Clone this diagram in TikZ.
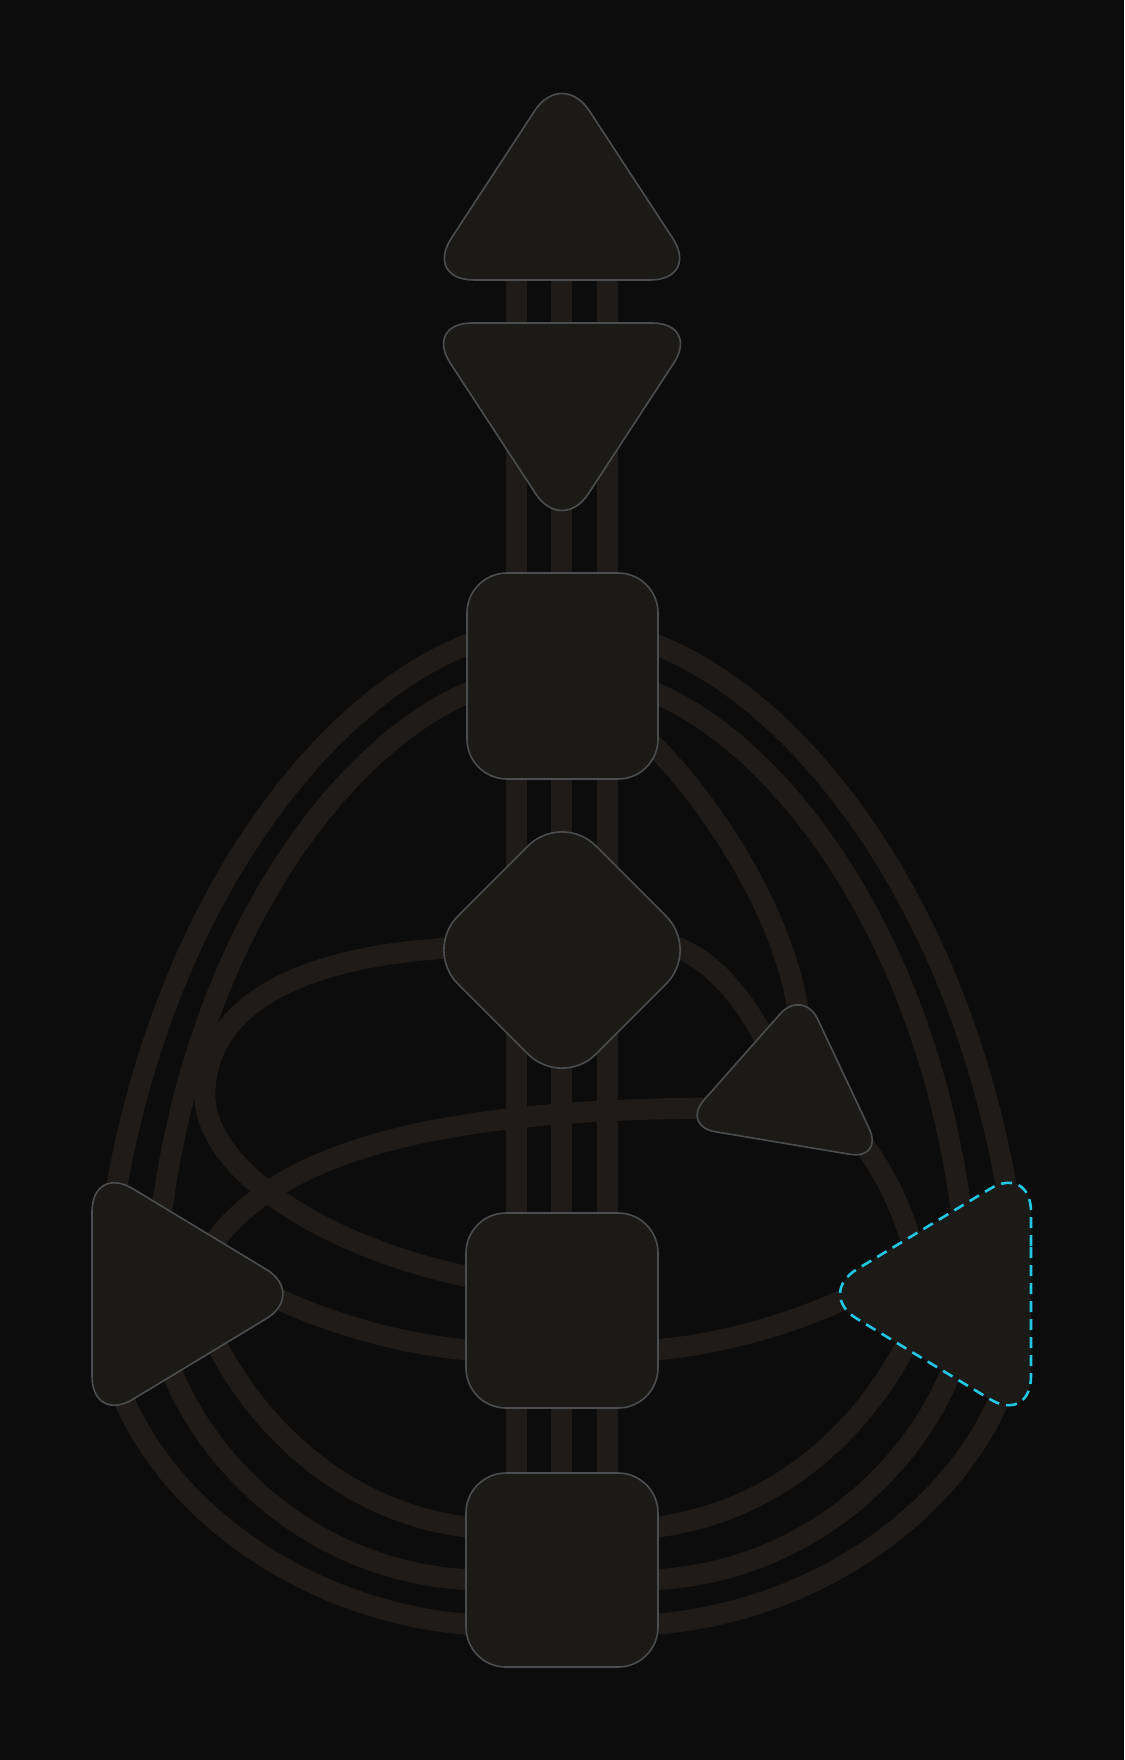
\documentclass[tikz,border=0pt]{standalone}
\usetikzlibrary{calc}
\definecolor{bgc}{HTML}{0C0C0C}
\definecolor{chan}{HTML}{1F1B18}
\definecolor{cfill}{HTML}{1B1A17}
\definecolor{cline}{HTML}{4A4E50}
\definecolor{spline}{HTML}{22C7E6}
\begin{document}
\begin{tikzpicture}[x=1pt,y=-1pt,
  channel/.style={draw=chan,line width=21pt,line cap=butt,line join=round},
  centre/.style={fill=cfill,draw=cline,line width=1.6pt,line join=round},
  spcentre/.style={fill=cfill,draw=spline,line width=2.6pt,dash pattern=on 11pt off 7pt}]
\fill[bgc] (0,0) rectangle (1124,1760);
\useasboundingbox (0,0) rectangle (1124,1760);

% ---------- channel end points ----------
\coordinate (vt1) at (516,270);   \coordinate (vb1) at (516,1480);
\coordinate (vt2) at (561.5,270); \coordinate (vb2) at (561.5,1480);
\coordinate (vt3) at (607,270);   \coordinate (vb3) at (607,1480);

\coordinate (thLA) at (480,640);  \coordinate (spLA) at (112,1215);
\coordinate (thLB) at (480,688);  \coordinate (spLB) at (160,1225);
\coordinate (thRA) at (643,640);  \coordinate (spRA) at (1011,1215);
\coordinate (thRB) at (643,688);  \coordinate (spRB) at (963,1225);

\coordinate (gL) at (450,948);    \coordinate (loopM) at (205,1090);
\coordinate (saL1) at (475,1278);
\coordinate (htL) at (732,1108);  \coordinate (spH) at (212,1245);
\coordinate (spA) at (270,1295);  \coordinate (saL2) at (470,1350);
\coordinate (soA) at (853,1295);  \coordinate (saR2) at (653,1350);

\coordinate (spO) at (118,1385);  \coordinate (rtLO) at (475,1625);
\coordinate (spM) at (168,1362);  \coordinate (rtLM) at (475,1580);
\coordinate (spI) at (212,1335);  \coordinate (rtLI) at (475,1528);
\coordinate (soO) at (1005,1385); \coordinate (rtRO) at (648,1625);
\coordinate (soM) at (955,1362);  \coordinate (rtRM) at (648,1580);
\coordinate (soI) at (911,1335);  \coordinate (rtRI) at (648,1528);

\coordinate (thH) at (650,742);   \coordinate (htA) at (800,1025);
\coordinate (gR) at (670,945);    \coordinate (htL2) at (768,1045);
\coordinate (htB) at (860,1140);  \coordinate (soH) at (915,1255);

% ---------- channels ----------
\draw[channel] (vt1) -- (vb1);
\draw[channel] (vt2) -- (vb2);
\draw[channel] (vt3) -- (vb3);

\draw[channel] (thLA) .. controls (330,690) and (160,900) .. (spLA);
\draw[channel] (thLB) .. controls (350,735) and (195,930) .. (spLB);
\draw[channel] (thRA) .. controls (793,690) and (963,900) .. (spRA);
\draw[channel] (thRB) .. controls (773,735) and (928,930) .. (spRB);

\draw[channel] (gL) .. controls (330,955) and (210,990) .. (loopM)
               .. controls (200,1170) and (330,1250) .. (saL1);
\draw[channel] (htL) .. controls (490,1108) and (290,1135) .. (spH);
\draw[channel] (spA) .. controls (320,1320) and (400,1345) .. (saL2);
\draw[channel] (soA) .. controls (803,1320) and (723,1345) .. (saR2);

\draw[channel] (spO) .. controls (160,1500) and (295,1612) .. (rtLO);
\draw[channel] (spM) .. controls (210,1475) and (325,1575) .. (rtLM);
\draw[channel] (spI) .. controls (255,1425) and (345,1515) .. (rtLI);
\draw[channel] (soO) .. controls (963,1500) and (828,1612) .. (rtRO);
\draw[channel] (soM) .. controls (913,1475) and (798,1575) .. (rtRM);
\draw[channel] (soI) .. controls (868,1425) and (778,1515) .. (rtRI);

\draw[channel] (thH) .. controls (700,790) and (788,910) .. (htA);
\draw[channel] (gR) .. controls (705,955) and (740,990) .. (htL2);
\draw[channel] (htB) .. controls (882,1168) and (902,1205) .. (soH);

% ---------- centres ----------
% head
\draw[centre,rounded corners=50pt] (562,280) -- (700,280) -- (562,69) -- (424,280) -- cycle;
% ajna
\draw[centre,rounded corners=48pt] (562,323) -- (424,323) -- (562,534) -- (700,323) -- cycle;
% throat
\draw[centre,rounded corners=40pt] (467,573) rectangle (658,779);
% G
\draw[centre,rounded corners=48pt] (493,881) -- (562,812) -- (700,950) -- (562,1088) -- (424,950) -- cycle;
% heart
\draw[centre,rounded corners=35pt] (742,1057) -- (803,988) -- (884,1160) -- (681,1126) -- cycle;
% spleen
\draw[centre,rounded corners=48pt] (92,1294) -- (92,1164) -- (307,1294) -- (92,1424) -- cycle;
% solar plexus
\draw[spcentre,rounded corners=48pt] (1031,1294) -- (1031,1164) -- (816,1294) -- (1031,1424) -- cycle;
% sacral
\draw[centre,rounded corners=40pt] (466,1213) rectangle (658,1408);
% root
\draw[centre,rounded corners=40pt] (466,1473) rectangle (658,1667);
\end{tikzpicture}
\end{document}
